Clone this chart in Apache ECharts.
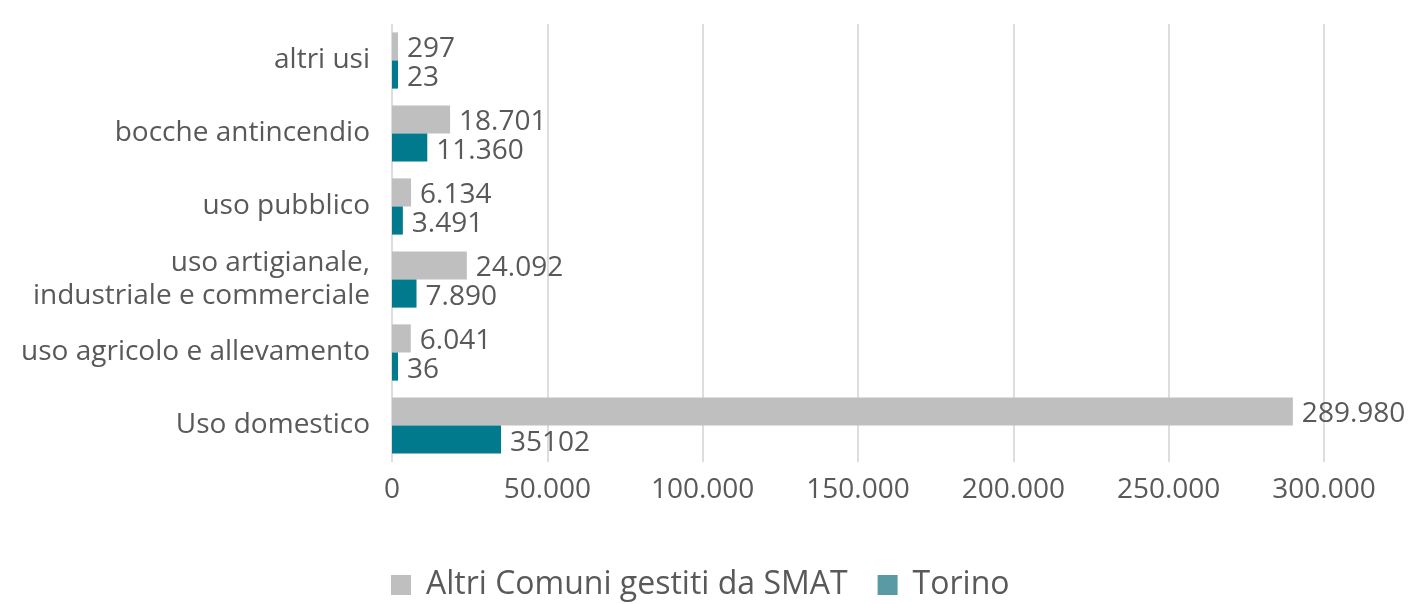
<!DOCTYPE html>
<html>
<head>
<meta charset="utf-8">
<script src="https://cdn.jsdelivr.net/npm/echarts@6/dist/echarts.min.js"></script>
<style>
  html, body { margin: 0; padding: 0; background: #ffffff; }
  #chart { width: 1410px; height: 604px; }
</style>
</head>
<body>
<div id="chart"></div>
<script>
// Categories, top to bottom
const categories = [
  'altri usi',
  'bocche antincendio',
  'uso pubblico',
  'uso artigianale,\nindustriale e commerciale',
  'uso agricolo e allevamento',
  'Uso domestico'
];

// Utenze per tipologia
const altriComuni = [297, 18701, 6134, 24092, 6041, 289980];
const torino = [23, 11360, 3491, 7890, 36, 35102];

// Value label text as printed next to each bar
const altriLabels = ['297', '18.701', '6.134', '24.092', '6.041', '289.980'];
const torinoLabels = ['23', '11.360', '3.491', '7.890', '36', '35102'];

const seriesNames = ['Altri Comuni gestiti da SMAT', 'Torino'];
const xTicks = [0, 50000, 100000, 150000, 200000, 250000, 300000];

const FONT = '"Open Sans", "Noto Sans", sans-serif';
const TEXT = '#595959';

function groupDots(v) {
  return String(v).replace(/\B(?=(\d{3})+(?!\d))/g, '.');
}

function valueLabel(texts) {
  return {
    show: true,
    position: 'right',
    distance: 9,
    offset: [0, 3],
    fontFamily: FONT,
    fontSize: 28,
    color: TEXT,
    formatter: p => texts[p.dataIndex]
  };
}

const chart = echarts.init(document.getElementById('chart'));
chart.setOption({
  animation: false,
  backgroundColor: '#ffffff',
  textStyle: { fontFamily: FONT },
  grid: { left: 392, right: 86, top: 24, bottom: 142, containLabel: false },
  legend: {
    left: 386,
    top: 564,
    itemWidth: 20,
    itemHeight: 20,
    itemGap: 30,
    icon: 'rect',
    textStyle: { fontFamily: FONT, fontSize: 32, color: TEXT, padding: [0, 0, 0, 10] },
    data: [
      { name: seriesNames[0], itemStyle: { color: '#BFBFBF' } },
      { name: seriesNames[1], itemStyle: { color: '#5A9AA5' } }
    ]
  },
  xAxis: {
    type: 'value',
    min: xTicks[0],
    max: xTicks[xTicks.length - 1],
    interval: 50000,
    axisLine: { show: false },
    axisTick: { show: false },
    splitLine: { lineStyle: { color: '#DDDDDD', width: 2 } },
    axisLabel: {
      margin: 14,
      fontFamily: FONT,
      fontSize: 28,
      color: TEXT,
      formatter: v => groupDots(v)
    }
  },
  yAxis: {
    type: 'category',
    inverse: true,
    data: categories,
    axisLine: { show: false },
    axisTick: { show: false },
    axisLabel: {
      margin: 22,
      fontFamily: FONT,
      fontSize: 28,
      lineHeight: 33,
      color: TEXT,
      align: 'right'
    }
  },
  series: [
    {
      name: seriesNames[0],
      type: 'bar',
      data: altriComuni,
      barGap: '0%',
      barCategoryGap: '23%',
      barMinHeight: 6,
      itemStyle: { color: '#BFBFBF' },
      label: valueLabel(altriLabels)
    },
    {
      name: seriesNames[1],
      type: 'bar',
      data: torino,
      barGap: '0%',
      barCategoryGap: '23%',
      barMinHeight: 6,
      itemStyle: { color: '#007A8C' },
      label: valueLabel(torinoLabels)
    }
  ]
});
</script>
</body>
</html>
